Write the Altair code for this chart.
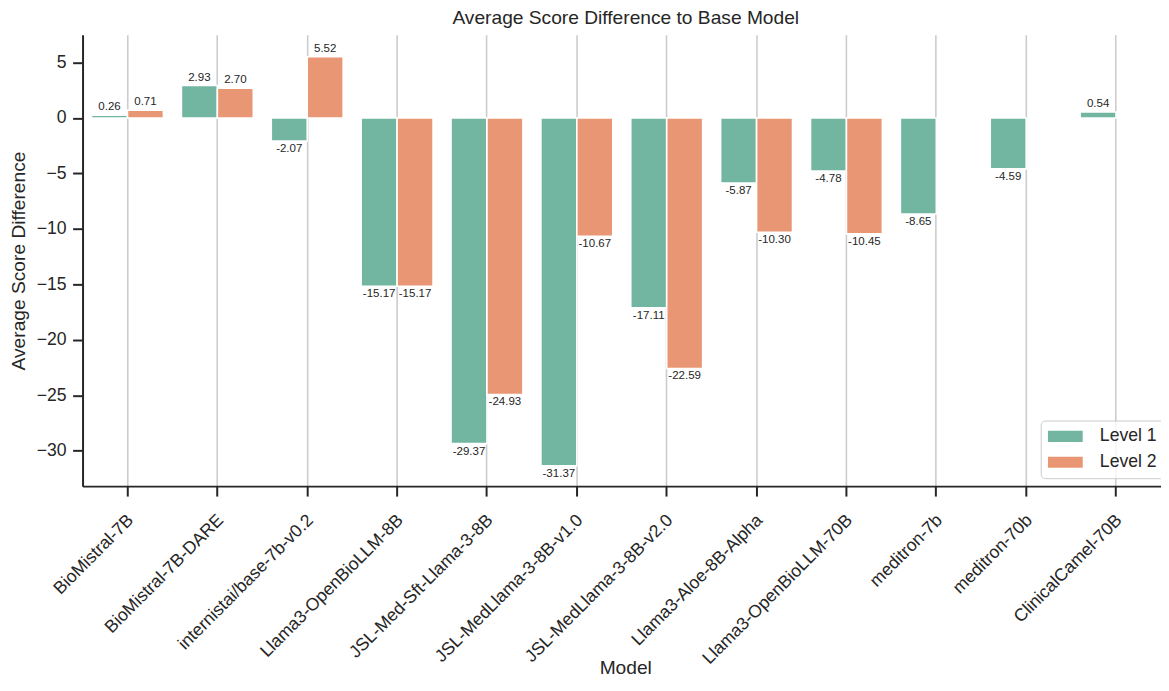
import altair as alt
import pandas as pd

models = [
    "BioMistral-7B", "BioMistral-7B-DARE", "internistai/base-7b-v0.2",
    "Llama3-OpenBioLLM-8B", "JSL-Med-Sft-Llama-3-8B", "JSL-MedLlama-3-8B-v1.0",
    "JSL-MedLlama-3-8B-v2.0", "Llama3-Aloe-8B-Alpha", "Llama3-OpenBioLLM-70B",
    "meditron-7b", "meditron-70b", "ClinicalCamel-70B",
]
level1 = [0.26, 2.93, -2.07, -15.17, -29.37, -31.37, -17.11, -5.87, -4.78, -8.65, -4.59, 0.54]
level2 = [0.71, 2.70, 5.52, -15.17, -24.93, -10.67, -22.59, -10.30, -10.45, None, None, None]
levels = ["Level 1", "Level 2"]
colors = ["#72b6a1", "#e99675"]
y_ticks = [-30, -25, -20, -15, -10, -5, 0, 5]

rows = []
for m, a, b in zip(models, level1, level2):
    for lev, v in zip(levels, (a, b)):
        if v is not None:
            rows.append({"Model": m, "Level": lev, "Diff": v, "label": f"{v:.2f}"})
df = pd.DataFrame(rows)

FONT = "Liberation Sans"
TXT = "#262626"

x_enc = alt.X(
    "Model:N", sort=models,
    scale=alt.Scale(domain=models, paddingInner=0, paddingOuter=0),
    axis=alt.Axis(
        title="Model", labelAngle=-45, labelAlign="right", labelBaseline="top",
        labelFontSize=17.7, labelPadding=15, labelOffset=-3, labelColor=TXT, labelLimit=0,
        tickSize=10, tickWidth=2, tickColor=TXT, domainColor=TXT, domainWidth=2,
        grid=True, gridColor="#cccccc", gridWidth=1.6,
        titleFontSize=19.3, titleFontWeight="normal", titleColor=TXT,
        titleX=546, titleY=189, titleBaseline="alphabetic", titleAlign="center",
    ),
)
xo_enc = alt.XOffset("Level:N", scale=alt.Scale(domain=levels, paddingOuter=0.25, paddingInner=0))
y_enc = alt.Y(
    "Diff:Q",
    scale=alt.Scale(domain=[-33.2, 7.5], nice=False, zero=False),
    axis=alt.Axis(
        title="Average Score Difference", values=y_ticks, grid=False,
        labelFontSize=17.7, labelPadding=6.6, labelColor=TXT,
        tickSize=10, tickWidth=2, tickColor=TXT, domainColor=TXT, domainWidth=2,
        titleFontSize=19.3, titleFontWeight="normal", titleColor=TXT,
        titleX=-64, titleY=227, titleAngle=-90, titleBaseline="middle", titleAlign="center",
    ),
)

base = alt.Chart(df)

bars = base.mark_bar(stroke="white", strokeWidth=1.6).encode(
    x=x_enc, xOffset=xo_enc, y=y_enc,
    color=alt.Color(
        "Level:N",
        scale=alt.Scale(domain=levels, range=colors),
        legend=alt.Legend(
            title=None, orient="none", legendX=964, legendY=388,
            symbolType="M-1,-0.64H3V0.64H-1Z", symbolSize=306.25,
            symbolStrokeWidth=0, symbolOpacity=1,
            labelFontSize=17.7, labelColor=TXT, labelOffset=34.5,
            padding=7, rowPadding=8,
            fillColor="rgba(255,255,255,0.8)", strokeColor="#cccccc", cornerRadius=4,
        ),
    ),
)

pos_text = base.transform_filter("datum.Diff >= 0").mark_text(
    baseline="bottom", dy=-3, fontSize=11.6, color=TXT, font=FONT
).encode(x=x_enc, xOffset=xo_enc, y=y_enc, text="label:N")

neg_text = base.transform_filter("datum.Diff < 0").mark_text(
    baseline="top", dy=2, fontSize=11.6, color=TXT, font=FONT
).encode(x=x_enc, xOffset=xo_enc, y=y_enc, text="label:N")

chart = (
    alt.layer(bars, pos_text, neg_text)
    .properties(
        width=1085, height=454,
        title=alt.TitleParams(
            "Average Score Difference to Base Model", fontSize=19.3, fontWeight="normal",
            color=TXT, anchor="middle", baseline="alphabetic", offset=8, dy=16, dx=4,
            font=FONT,
        ),
        autosize=alt.AutoSizeParams(type="none"),
        padding={"left": 75, "top": 25, "right": 0, "bottom": 191},
    )
    .configure(font=FONT)
    .configure_view(stroke=None)
)

chart.save("out.html", embed_options={"renderer": "svg", "actions": False})
